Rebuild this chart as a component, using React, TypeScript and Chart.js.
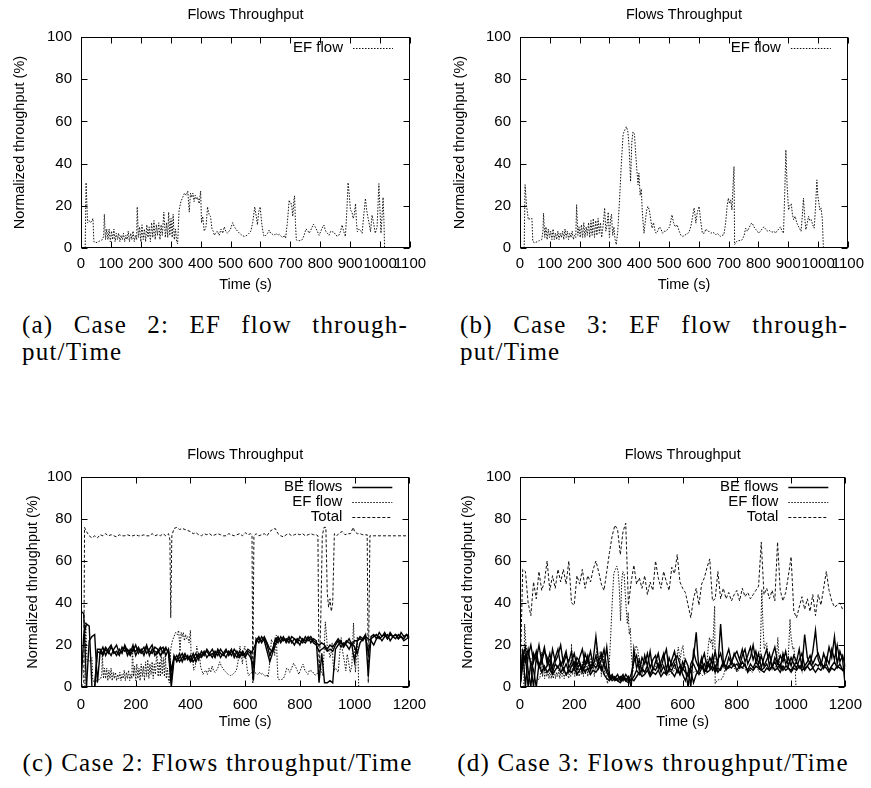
import React, { useEffect, useRef } from "react";
import { Chart, registerables } from "chart.js";

Chart.register(...registerables);

const SANS = '"Liberation Sans", Arial, Helvetica, sans-serif';
const SERIF = '"Liberation Serif", "Times New Roman", serif';

// ---------- data ----------
const CHART_TITLE = "Flows Throughput";
const X_TITLE = "Time (s)";
const Y_TITLE = "Normalized throughput (%)";

const TIME_10S = [
  0, 10, 20, 30, 40, 50, 60, 70, 80, 90,
  100, 110, 120, 130, 140, 150, 160, 170, 180, 190,
  200, 210, 220, 230, 240, 250, 260, 270, 280, 290,
  300, 310, 320, 330, 340, 350, 360, 370, 380, 390,
  400, 410, 420, 430, 440, 450, 460, 470, 480, 490,
  500, 510, 520, 530, 540, 550, 560, 570, 580, 590,
  600, 610, 620, 630, 640, 650, 660, 670, 680, 690,
  700, 710, 720, 730, 740, 750, 760, 770, 780, 790,
  800, 810, 820, 830, 840, 850, 860, 870, 880, 890,
  900, 910, 920, 930, 940, 950, 960, 970, 980, 990,
  1000, 1010, 1020, 1030, 1040, 1050, 1060, 1070, 1080, 1090,
  1100, 1110, 1120, 1130, 1140, 1150, 1160, 1170, 1180, 1190,
  1200,
];

// EF flow, case 2: [time (s), throughput (%)]
const EF_CASE2 = [
  [14, 0], [17, 31], [22, 12], [27, 13], [32, 12], [37, 13], [40, 14], [43, 3], [50, 2.5], [58, 3],
  [65, 3.5], [72, 4], [76, 6], [78, 16], [82, 4], [86, 9], [90, 4], [94, 9], [98, 3], [102, 8],
  [106, 4], [110, 9], [114, 3], [118, 7], [122, 4], [126, 7], [130, 3], [134, 6], [138, 4], [142, 7],
  [146, 3], [150, 6], [154, 4], [158, 8], [162, 3], [166, 7], [170, 4], [174, 8], [178, 3], [182, 6],
  [186, 4], [188, 19.5], [192, 5], [196, 10], [200, 3], [204, 11], [208, 4], [212, 9], [216, 3], [220, 11],
  [224, 5], [228, 10], [232, 3], [236, 12], [240, 5], [244, 13], [248, 4], [252, 11], [256, 6], [260, 12],
  [264, 4], [268, 11], [272, 6], [277, 17], [282, 5], [286, 12], [290, 5], [293, 17], [297, 6], [301, 14],
  [305, 5], [308, 16], [312, 4], [316, 9], [320, 3], [323, 2], [328, 18], [334, 22], [340, 24], [346, 26],
  [352, 25], [357, 27], [362, 17], [366, 26], [370, 24], [374, 26], [378, 22], [382, 25], [386, 23], [390, 24],
  [395, 21], [400, 27], [403, 12], [407, 15], [412, 8], [418, 10], [423, 19.5], [428, 16], [433, 15], [438, 9],
  [442, 8], [446, 6], [450, 7], [456, 8], [462, 6], [468, 9], [474, 7], [479, 10], [484, 8], [490, 7],
  [495, 8], [500, 9], [507, 12], [513, 10], [518, 9], [523, 8], [530, 7], [538, 6], [546, 5.5], [555, 6],
  [562, 7], [568, 8], [574, 12], [581, 19.5], [586, 15], [590, 11], [594, 17], [599, 19.5], [604, 12], [608, 8],
  [612, 5.5], [618, 6], [624, 7], [629, 8.5], [634, 7], [640, 6.5], [646, 6], [652, 7], [658, 6], [663, 6.5],
  [668, 5.7], [674, 5], [680, 6], [684, 4.6], [690, 12], [696, 22.7], [700, 21], [704, 21], [708, 15], [712, 23],
  [714, 24.7], [717, 12], [720, 3.8], [726, 3.5], [732, 3.5], [740, 4], [746, 6], [752, 9], [757, 8.5], [763, 7],
  [770, 9], [777, 11.3], [783, 10], [790, 8], [796, 6], [802, 8], [808, 10], [812, 10.9], [818, 8], [824, 7],
  [829, 6], [835, 8], [840, 7.7], [846, 7.5], [852, 6], [857, 5.7], [862, 6], [868, 8], [873, 10.9], [878, 8],
  [884, 5.4], [889, 18], [893, 31], [897, 25], [901, 18], [906, 17], [910, 14], [914, 16], [918, 21], [921, 12],
  [924, 7.7], [930, 9], [936, 8], [940, 7], [945, 15], [951, 23.5], [955, 18], [959, 14.8], [963, 12], [968, 7.7],
  [973, 15.6], [978, 12], [984, 7], [990, 10], [996, 30.5], [999, 20], [1003, 7], [1007, 16], [1010, 24], [1013, 12],
  [1015, 0],
];

// EF flow, case 3: [time (s), throughput (%)]
const EF_CASE3 = [
  [14, 0], [17, 30], [22, 20], [28, 13.4], [34, 14], [40, 14], [43, 3], [50, 2.5], [58, 3], [65, 3.5],
  [73, 4], [77, 8], [79, 16.5], [83, 5], [87, 10], [91, 4], [95, 9], [99, 5], [103, 8], [107, 4],
  [111, 9], [115, 4], [119, 7], [123, 4], [127, 8], [131, 4], [135, 7], [139, 5], [143, 8], [147, 4],
  [151, 9], [155, 5], [159, 8], [163, 4], [167, 7], [171, 5], [175, 8], [179, 4], [183, 6], [187, 5],
  [190, 20.5], [194, 6], [198, 10], [202, 5], [206, 11], [210, 5], [214, 12], [218, 5], [222, 10], [226, 6],
  [230, 12], [234, 5], [238, 13], [242, 6], [246, 14], [250, 5], [254, 13], [258, 6], [262, 14], [266, 7],
  [270, 12], [274, 5], [280, 12], [284, 19], [288, 8], [292, 11], [296, 17], [300, 5], [304, 14], [307, 16],
  [311, 6], [315, 10], [319, 4], [323, 1.6], [328, 8], [334, 23], [340, 40], [346, 54], [352, 56], [357, 57.5],
  [362, 55], [366, 48], [371, 31.5], [375, 50], [379, 55], [384, 54], [388, 45], [392, 37], [396, 30], [399, 35.5],
  [403, 25], [407, 28], [410, 18], [413, 12], [416, 7], [420, 12], [425, 18], [429, 19.7], [434, 18], [438, 14],
  [443, 9.4], [448, 12], [453, 8], [457, 7], [462, 8], [468, 10], [473, 9], [478, 7], [484, 7.9], [490, 8],
  [496, 9], [502, 10], [506, 13], [510, 15.7], [515, 12], [521, 10], [527, 11], [534, 8], [540, 6], [546, 5.5],
  [552, 6], [558, 6.5], [564, 7], [568, 7.9], [573, 10], [578, 14], [584, 19], [587, 16], [590, 11.8], [595, 17],
  [601, 19.7], [606, 13], [612, 7], [618, 7], [624, 9], [629, 8], [634, 7.9], [640, 7], [646, 7.5], [652, 7],
  [657, 6.3], [662, 7], [668, 6], [673, 5.5], [678, 6], [684, 6.3], [690, 12], [695, 20], [699, 23.6], [703, 21],
  [707, 22.8], [711, 18], [715, 30], [718, 38.6], [720, 1.6], [726, 3], [733, 3.5], [740, 3.5], [746, 4], [752, 6],
  [757, 9.4], [763, 8], [770, 10], [775, 11.5], [779, 11.8], [785, 10], [790, 9], [796, 8], [801, 7], [807, 8],
  [812, 9], [818, 10], [824, 9], [830, 8], [835, 8.5], [840, 7.9], [846, 7.5], [852, 8], [857, 7], [862, 8],
  [868, 9], [874, 10], [879, 8], [884, 7], [888, 25], [892, 46.5], [896, 30], [901, 18], [905, 20], [910, 21],
  [914, 16], [918, 13.4], [923, 15], [929, 11.8], [935, 10], [939, 9], [943, 7.9], [947, 15], [951, 23.6], [955, 15],
  [959, 8.7], [964, 12], [968, 15], [972, 13], [977, 13.4], [982, 11], [987, 9.4], [991, 18], [996, 32.3], [999, 25],
  [1003, 21], [1006, 18], [1010, 19], [1014, 14], [1018, 0],
];

// Total, case 2: [time (s), throughput (%)]
const TOTAL_CASE2 = [
  [0, 0], [10, 2], [13, 76], [20, 74], [30, 72], [40, 71], [50, 72], [60, 71], [70, 72.5], [80, 72],
  [90, 73], [100, 72], [110, 72.5], [120, 72], [130, 71.5], [140, 72.5], [150, 72], [160, 72], [170, 72.5], [180, 72],
  [190, 72], [200, 72.5], [210, 72], [220, 72], [230, 72.5], [240, 72], [250, 72], [260, 73], [270, 72], [280, 72.5],
  [290, 72], [300, 73], [310, 72], [320, 73], [325, 70], [328, 33], [332, 72], [340, 75.5], [350, 76], [360, 75],
  [370, 75.5], [380, 75], [390, 74.5], [400, 74], [410, 73], [420, 73.5], [430, 72.5], [440, 72], [450, 73], [460, 72.5],
  [470, 73], [480, 72], [490, 72.5], [500, 73], [510, 72.5], [520, 72], [530, 72], [540, 73], [550, 72.5], [560, 72],
  [570, 72.5], [580, 73], [590, 72], [600, 73.5], [610, 72.5], [620, 73], [625, 72.5], [628, 2], [632, 72], [640, 73],
  [650, 72], [660, 72.5], [670, 73], [680, 72], [690, 74], [700, 75], [710, 75.5], [720, 73], [730, 72], [740, 71.5],
  [750, 72.5], [760, 73], [770, 72], [780, 72.5], [790, 73], [800, 72.5], [810, 73], [820, 72], [830, 72.5], [840, 73],
  [850, 72.5], [860, 72.5], [866, 72], [870, 4], [876, 30], [882, 72], [888, 76], [895, 76], [900, 45], [905, 38],
  [910, 42], [915, 36], [920, 40], [926, 73], [935, 72], [945, 73.5], [955, 74], [965, 72.5], [975, 73], [985, 73],
  [995, 76], [1000, 74], [1010, 73], [1020, 73], [1030, 72.5], [1040, 72.5], [1046, 72.5], [1050, 2], [1056, 72], [1070, 72],
  [1100, 72], [1150, 72], [1200, 72],
];

// BE flows, case 2 (one value every 10 s)
const BE_CASE2_A = [
  36, 35, 0, 0, 0, 0, 18, 18, 16, 19,
  17, 15, 18, 20, 16, 17, 19, 15, 18, 17,
  20, 16, 18, 15, 19, 17, 16, 19, 18, 15,
  17, 19, 16, 0, 13, 15, 12, 14, 16, 13,
  15, 12, 14, 16, 15, 17, 14, 16, 18, 15,
  17, 14, 16, 18, 15, 17, 16, 14, 17, 15,
  16, 18, 17, 3, 22, 24, 21, 23, 20, 15,
  18, 22, 24, 21, 23, 22, 24, 21, 23, 22,
  20, 23, 22, 24, 21, 23, 22, 2, 16, 2,
  2, 3, 2, 18, 20, 22, 19, 21, 23, 20,
  12, 22, 24, 23, 25, 5, 24, 25, 23, 26,
  24, 25, 23, 26, 24, 25, 23, 26, 24, 25,
  23,
];
const BE_CASE2_B = [
  0, 25, 30, 29, 0, 0, 17, 16, 19, 15,
  18, 20, 16, 17, 15, 19, 17, 18, 16, 20,
  15, 18, 17, 19, 16, 18, 20, 15, 17, 19,
  16, 18, 17, 3, 15, 12, 14, 16, 13, 15,
  12, 14, 16, 13, 17, 15, 18, 16, 14, 17,
  15, 18, 16, 14, 17, 15, 18, 16, 14, 17,
  15, 16, 14, 10, 23, 21, 24, 22, 17, 12,
  16, 20, 23, 22, 24, 21, 23, 22, 20, 23,
  22, 21, 24, 22, 23, 21, 20, 17, 18, 19,
  17, 18, 17, 20, 22, 19, 21, 20, 18, 21,
  19, 16, 21, 23, 24, 16, 23, 24, 25, 23,
  24, 26, 23, 25, 24, 23, 25, 24, 23, 25,
  24,
];
const BE_CASE2_C = [
  0, 0, 0, 22, 24, 25, 2, 17, 15, 18,
  16, 19, 17, 15, 18, 16, 20, 17, 15, 18,
  17, 19, 16, 17, 20, 15, 18, 17, 16, 18,
  19, 15, 18, 8, 14, 13, 16, 12, 15, 14,
  13, 16, 12, 15, 14, 16, 17, 15, 16, 14,
  18, 16, 15, 17, 16, 18, 14, 17, 15, 16,
  14, 17, 16, 18, 21, 23, 22, 24, 21, 18,
  17, 23, 21, 24, 22, 23, 21, 24, 23, 21,
  24, 22, 21, 23, 24, 22, 21, 20, 21, 20,
  18, 20, 19, 21, 23, 21, 20, 22, 21, 20,
  22, 22, 23, 22, 24, 23, 22, 20, 23, 24,
  22, 24, 25, 22, 24, 25, 23, 24, 22, 23,
  24,
];

// BE flows, case 3 (one value every 10 s)
const BE_CASE3_A = [
  0, 18, 0, 15, 20, 12, 17, 10, 14, 19,
  11, 16, 9, 14, 18, 10, 13, 17, 9, 12,
  16, 10, 14, 18, 11, 15, 9, 13, 24, 12,
  16, 10, 19, 6, 4, 5, 3, 4, 6, 3,
  5, 0, 18, 9, 13, 7, 15, 10, 17, 8,
  12, 16, 9, 14, 18, 8, 13, 17, 10, 6,
  12, 9, 0, 11, 14, 26, 8, 12, 16, 9,
  14, 11, 17, 10, 30, 12, 9, 14, 11, 16,
  13, 10, 15, 18, 11, 14, 20, 12, 16, 9,
  14, 18, 10, 15, 19, 12, 9, 16, 11, 14,
  10, 15, 12, 18, 9, 25, 14, 11, 17, 27,
  13, 10, 16, 12, 19, 14, 24, 11, 17, 13,
  0,
];
const BE_CASE3_B = [
  0, 14, 19, 8, 0, 16, 13, 20, 12, 17,
  14, 9, 18, 12, 15, 20, 11, 15, 12, 17,
  9, 14, 12, 8, 16, 12, 17, 10, 15, 9,
  13, 18, 9, 5, 3, 4, 6, 3, 5, 4,
  3, 6, 12, 15, 8, 14, 11, 16, 9, 13,
  15, 9, 12, 16, 8, 14, 10, 13, 15, 11,
  8, 13, 10, 0, 17, 12, 9, 14, 7, 12,
  9, 15, 8, 13, 16, 10, 14, 18, 12, 15,
  17, 13, 18, 12, 15, 19, 13, 17, 11, 15,
  10, 13, 16, 9, 14, 11, 15, 12, 17, 10,
  14, 11, 9, 13, 16, 10, 12, 15, 11, 14,
  16, 12, 9, 14, 11, 18, 13, 20, 12, 15,
  10,
];
const BE_CASE3_C = [
  0, 17, 12, 18, 10, 0, 14, 9, 13, 8,
  10, 13, 7, 11, 9, 12, 8, 11, 7, 10,
  12, 8, 11, 7, 10, 13, 8, 11, 9, 12,
  8, 11, 7, 4, 6, 3, 4, 5, 3, 6,
  4, 3, 5, 8, 6, 9, 7, 10, 6, 9,
  8, 11, 7, 10, 6, 9, 8, 11, 7, 10,
  6, 3, 7, 9, 11, 8, 6, 9, 11, 7,
  8, 10, 7, 9, 8, 11, 10, 9, 12, 10,
  11, 9, 12, 10, 8, 11, 9, 12, 10, 8,
  9, 11, 8, 10, 12, 9, 11, 8, 10, 9,
  8, 10, 12, 9, 11, 8, 10, 12, 9, 11,
  10, 12, 9, 11, 8, 10, 12, 9, 11, 8,
  10,
];
const BE_CASE3_D = [
  0, 10, 15, 0, 12, 8, 0, 11, 7, 10,
  7, 9, 6, 8, 10, 7, 9, 6, 8, 7,
  9, 6, 8, 10, 7, 9, 6, 8, 7, 9,
  10, 6, 4, 3, 5, 4, 3, 2, 4, 3,
  2, 4, 3, 5, 7, 5, 6, 8, 5, 7,
  6, 8, 5, 7, 6, 8, 7, 5, 8, 6,
  9, 7, 5, 8, 2, 6, 8, 10, 7, 9,
  11, 8, 10, 7, 9, 12, 8, 10, 9, 11,
  8, 10, 9, 11, 7, 9, 8, 10, 9, 8,
  7, 9, 8, 10, 8, 9, 7, 10, 8, 9,
  7, 9, 8, 10, 8, 9, 10, 8, 9, 7,
  9, 8, 10, 9, 7, 9, 8, 10, 9, 8,
  9,
];

// Total, case 3 (one value every 10 s)
const TOTAL_CASE3 = [
  0, 56, 55, 40, 34, 50, 42, 55, 46, 50,
  60, 46, 53, 47, 56, 50, 56, 49, 60, 40,
  39, 53, 49, 56, 47, 53, 50, 56, 60, 55,
  49, 46, 55, 64, 72, 77, 75, 63, 74, 78,
  39, 50, 58, 49, 52, 47, 53, 44, 50, 46,
  60, 52, 47, 55, 50, 46, 57, 54, 63, 50,
  47, 45, 39, 33, 42, 47, 39, 49, 52, 57,
  61, 41, 42, 55, 42, 47, 42, 45, 41, 44,
  46, 41, 47, 43, 45, 42, 44, 46, 48, 69,
  44, 47, 42, 46, 41, 69, 46, 41, 45, 53,
  62, 36, 33, 38, 43, 37, 42, 36, 44, 34,
  44, 39, 47, 55, 46, 41, 38, 39, 40, 37,
  36,
];

const LEGEND_EF = ["EF flow"];
const LEGEND_ALL = ["BE flows", "EF flow", "Total"];

const CAPTION_A = ["(a)", "Case", "2:", "EF", "flow", "through-"];
const CAPTION_A2 = "put/Time";
const CAPTION_B = ["(b)", "Case", "3:", "EF", "flow", "through-"];
const CAPTION_B2 = "put/Time";
const CAPTION_C = "(c) Case 2: Flows throughput/Time";
const CAPTION_D = "(d) Case 3: Flows throughput/Time";

// ---------- styles ----------
const STYLE_BE = { borderColor: "#000", borderWidth: 1.4, borderDash: [] as number[] };
const STYLE_EF = { borderColor: "#111", borderWidth: 1, borderDash: [1.5, 1.5] };
const STYLE_TOTAL = { borderColor: "#111", borderWidth: 1, borderDash: [3, 2] };

const pairs = (arr: number[][]) => arr.map(([x, y]) => ({ x, y }));
const series = (t: number[], v: number[]) => v.map((y, i) => ({ x: t[i], y }));

function mkDs(label: string, data: { x: number; y: number }[], style: any) {
  return {
    label,
    data,
    ...style,
    pointRadius: 0,
    fill: false,
    tension: 0,
  };
}

type PanelProps = {
  left: number;
  top: number;
  width: number;
  height: number;
  yAxisWidth: number;
  rightPad: number;
  xAxisHeight: number;
  yTitlePad: number;
  xTitlePad: number;
  xTickPad: number;
  xMax: number;
  xStep: number;
  datasets: any[];
  legend: { label: string; style: any }[];
  legendTop: number;
};

function Panel(p: PanelProps) {
  const ref = useRef<HTMLCanvasElement>(null);
  useEffect(() => {
    const gnuplotDecor = {
      id: "gnuplotDecor",
      afterDatasetsDraw(chart: any) {
        const { ctx, chartArea: a, scales } = chart;
        ctx.save();
        ctx.setLineDash([]);
        ctx.strokeStyle = "#000";
        ctx.lineWidth = 1;
        const L = Math.round(a.left) + 0.5;
        const R = Math.round(a.right) - 0.5;
        const T = Math.round(a.top) + 0.5;
        const B = Math.round(a.bottom) - 0.5;
        ctx.strokeRect(L, T, R - L, B - T);
        const TL = 6;
        ctx.beginPath();
        scales.x.ticks.forEach((t: any) => {
          const px = Math.round(scales.x.getPixelForValue(t.value)) + 0.5;
          ctx.moveTo(px, B);
          ctx.lineTo(px, B - TL);
          ctx.moveTo(px, T);
          ctx.lineTo(px, T + TL);
        });
        scales.y.ticks.forEach((t: any) => {
          const py = Math.round(scales.y.getPixelForValue(t.value)) + 0.5;
          ctx.moveTo(L, py);
          ctx.lineTo(L + TL, py);
          ctx.moveTo(R, py);
          ctx.lineTo(R - TL, py);
        });
        ctx.stroke();

        // title
        ctx.fillStyle = "#000";
        ctx.font = `14.5px ${SANS}`;
        ctx.textAlign = "center";
        ctx.textBaseline = "middle";
        ctx.fillText(CHART_TITLE, (a.left + a.right) / 2, 15);

        // legend (inside, top right)
        ctx.font = `15px ${SANS}`;
        ctx.textAlign = "right";
        p.legend.forEach((item, i) => {
          const y = a.top + p.legendTop + i * 15;
          ctx.fillStyle = "#000";
          ctx.fillText(item.label, a.right - 67, y);
          ctx.save();
          ctx.strokeStyle = item.style.borderColor;
          ctx.lineWidth = item.style.borderWidth;
          ctx.setLineDash(item.style.borderDash);
          ctx.beginPath();
          ctx.moveTo(a.right - 57, Math.round(y) + 0.5);
          ctx.lineTo(a.right - 17, Math.round(y) + 0.5);
          ctx.stroke();
          ctx.restore();
        });
        ctx.restore();
      },
    };

    const tickFont = { family: SANS, size: 15 };
    const titleFont = { family: SANS, size: 14.5 };
    const chart = new Chart(ref.current as HTMLCanvasElement, {
      type: "line",
      data: { datasets: p.datasets },
      options: {
        animation: false,
        responsive: false,
        maintainAspectRatio: false,
        devicePixelRatio: 1,
        layout: { padding: { top: 37, right: p.rightPad, left: 0, bottom: 0 } },
        plugins: {
          legend: { display: false },
          title: { display: false },
          tooltip: { enabled: false },
        },
        elements: { point: { radius: 0 } },
        scales: {
          x: {
            type: "linear",
            min: 0,
            max: p.xMax,
            grid: { display: false, drawTicks: false, tickLength: 0 },
            border: { display: false },
            ticks: {
              stepSize: p.xStep,
              autoSkip: false,
              maxRotation: 0,
              minRotation: 0,
              color: "#000",
              font: tickFont,
              padding: p.xTickPad,
              callback: (v: any) => String(v),
            },
            title: {
              display: true,
              text: X_TITLE,
              color: "#000",
              font: titleFont,
              padding: { top: 0, bottom: p.xTitlePad },
            },
            afterFit: (s: any) => {
              s.height = p.xAxisHeight;
            },
          },
          y: {
            type: "linear",
            min: 0,
            max: 100,
            grid: { display: false, drawTicks: false, tickLength: 0 },
            border: { display: false },
            ticks: {
              stepSize: 20,
              color: "#000",
              font: tickFont,
              padding: 9,
              callback: (v: any) => String(v),
            },
            title: {
              display: true,
              text: Y_TITLE,
              color: "#000",
              font: titleFont,
              padding: { top: p.yTitlePad, bottom: 0 },
            },
            afterFit: (s: any) => {
              s.width = p.yAxisWidth;
            },
          },
        },
      } as any,
      plugins: [gnuplotDecor],
    });
    return () => chart.destroy();
  }, []);
  return (
    <canvas
      ref={ref}
      width={p.width}
      height={p.height}
      style={{ position: "absolute", left: p.left, top: p.top, width: p.width, height: p.height }}
    />
  );
}

const captionStyle: React.CSSProperties = {
  position: "absolute",
  fontFamily: SERIF,
  fontSize: 25,
  lineHeight: "27px",
  color: "#000",
  letterSpacing: "1.2px",
  whiteSpace: "nowrap",
};

function JustifiedCaption({ left, top, width, words, line2 }: { left: number; top: number; width: number; words: string[]; line2: string }) {
  return (
    <div style={{ ...captionStyle, left, top, width }}>
      <div style={{ display: "flex", justifyContent: "space-between" }}>
        {words.map((w, i) => (
          <span key={i}>{w}</span>
        ))}
      </div>
      <div>{line2}</div>
    </div>
  );
}

export default function App() {
  const efDs2 = mkDs("EF flow", pairs(EF_CASE2), STYLE_EF);
  const efDs3 = mkDs("EF flow", pairs(EF_CASE3), STYLE_EF);

  const dsC = [
    mkDs("BE flows", series(TIME_10S, BE_CASE2_A), STYLE_BE),
    mkDs("BE flows", series(TIME_10S, BE_CASE2_B), STYLE_BE),
    mkDs("BE flows", series(TIME_10S, BE_CASE2_C), STYLE_BE),
    mkDs("EF flow", pairs(EF_CASE2), STYLE_EF),
    mkDs("Total", pairs(TOTAL_CASE2), STYLE_TOTAL),
  ];
  const dsD = [
    mkDs("BE flows", series(TIME_10S, BE_CASE3_A), STYLE_BE),
    mkDs("BE flows", series(TIME_10S, BE_CASE3_B), STYLE_BE),
    mkDs("BE flows", series(TIME_10S, BE_CASE3_C), STYLE_BE),
    mkDs("BE flows", series(TIME_10S, BE_CASE3_D), STYLE_BE),
    mkDs("EF flow", pairs(EF_CASE3), STYLE_EF),
    mkDs("Total", series(TIME_10S, TOTAL_CASE3), STYLE_TOTAL),
  ];

  const legendEF = LEGEND_EF.map((label) => ({ label, style: STYLE_EF }));
  const legendAll = [
    { label: LEGEND_ALL[0], style: STYLE_BE },
    { label: LEGEND_ALL[1], style: STYLE_EF },
    { label: LEGEND_ALL[2], style: STYLE_TOTAL },
  ];

  return (
    <div style={{ position: "absolute", left: 0, top: 0, width: 871, height: 788, background: "#fff", overflow: "hidden" }}>
      <Panel left={0} top={0} width={435} height={300} yAxisWidth={81} rightPad={25} xAxisHeight={52}
        yTitlePad={11.3} xTitlePad={6.3} xTickPad={7} xMax={1100} xStep={100}
        datasets={[efDs2]} legend={legendEF} legendTop={11} />
      <Panel left={435} top={0} width={436} height={300} yAxisWidth={85} rightPad={22} xAxisHeight={52}
        yTitlePad={16.3} xTitlePad={6.3} xTickPad={7} xMax={1100} xStep={100}
        datasets={[efDs3]} legend={legendEF} legendTop={11} />
      <Panel left={0} top={440} width={435} height={300} yAxisWidth={81} rightPad={25} xAxisHeight={53}
        yTitlePad={24.3} xTitlePad={9.3} xTickPad={9} xMax={1200} xStep={200}
        datasets={dsC} legend={legendAll} legendTop={10} />
      <Panel left={435} top={440} width={436} height={300} yAxisWidth={85} rightPad={22} xAxisHeight={53}
        yTitlePad={24.3} xTitlePad={9.3} xTickPad={9} xMax={1200} xStep={200}
        datasets={dsD} legend={legendAll} legendTop={10} />

      <JustifiedCaption left={22} top={311} width={386} words={CAPTION_A} line2={CAPTION_A2} />
      <JustifiedCaption left={460} top={311} width={388} words={CAPTION_B} line2={CAPTION_B2} />
      <div style={{ ...captionStyle, left: 0, top: 749, width: 435, textAlign: "center" }}>{CAPTION_C}</div>
      <div style={{ ...captionStyle, left: 435, top: 749, width: 436, textAlign: "center" }}>{CAPTION_D}</div>
    </div>
  );
}
